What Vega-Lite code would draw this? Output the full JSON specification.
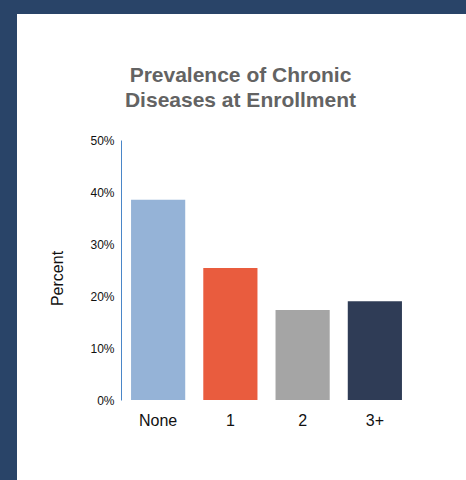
{
  "$schema": "https://vega.github.io/schema/vega-lite/v6.json",
  "autosize": "none",
  "padding": {"top": 14, "left": 17, "right": 0, "bottom": 0},
  "width": 449,
  "height": 466,
  "background": "#294468",
  "config": {
    "view": {"fill": "white", "stroke": null},
    "font": "Liberation Sans"
  },
  "title": {
    "text": ["Prevalence of Chronic", "Diseases at Enrollment"],
    "anchor": "middle",
    "frame": "group",
    "fontSize": 21,
    "fontWeight": "bold",
    "color": "#636363",
    "lineHeight": 25,
    "baseline": "top",
    "offset": -97,
    "dx": -1
  },
  "data": {
    "values": [
      {"category": "None", "percent": 0.385},
      {"category": "1", "percent": 0.254},
      {"category": "2", "percent": 0.173},
      {"category": "3+", "percent": 0.19}
    ]
  },
  "mark": {"type": "bar"},
  "encoding": {
    "x": {
      "field": "category",
      "type": "nominal",
      "sort": ["None", "1", "2", "3+"],
      "scale": {"range": [104, 395], "paddingInner": 0.25, "paddingOuter": 0.139},
      "axis": {
        "title": null,
        "domain": false,
        "ticks": false,
        "labelAngle": 0,
        "labelFontSize": 16,
        "labelColor": "#111111",
        "labelPadding": 12,
        "offset": -80
      }
    },
    "y": {
      "field": "percent",
      "type": "quantitative",
      "scale": {"domain": [0, 0.5], "range": [386, 126], "nice": false},
      "axis": {
        "title": "Percent",
        "format": ".0%",
        "values": [0, 0.1, 0.2, 0.3, 0.4, 0.5],
        "grid": false,
        "ticks": false,
        "domainColor": "#4a86c8",
        "domainWidth": 1,
        "labelFontSize": 12,
        "labelColor": "#111111",
        "labelPadding": 7,
        "offset": -104,
        "titleFontSize": 16,
        "titleFontWeight": "normal",
        "titleColor": "#111111",
        "titleAngle": -90,
        "titleX": -64,
        "titleY": 264,
        "titleAlign": "center",
        "titleBaseline": "middle"
      }
    },
    "color": {
      "field": "category",
      "type": "nominal",
      "sort": ["None", "1", "2", "3+"],
      "scale": {"domain": ["None", "1", "2", "3+"], "range": ["#95b3d7", "#e95c3e", "#a5a5a5", "#2f3c56"]},
      "legend": null
    }
  }
}
